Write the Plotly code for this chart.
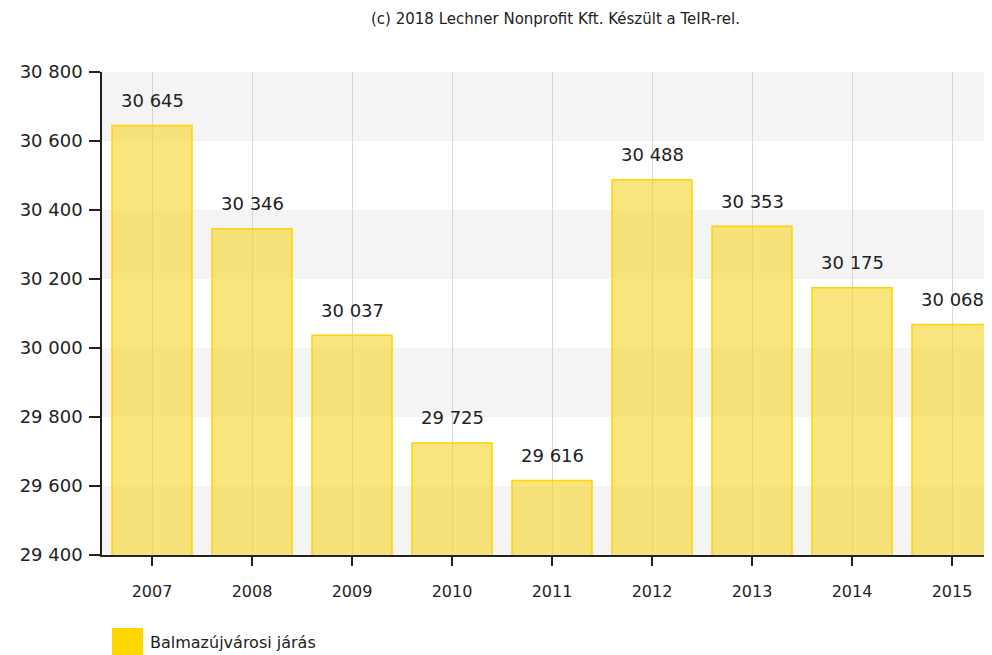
import plotly.graph_objects as go

years = ["2007", "2008", "2009", "2010", "2011", "2012", "2013", "2014", "2015"]
values = [30645, 30346, 30037, 29725, 29616, 30488, 30353, 30175, 30068]
series_name = "Balmazújvárosi járás"
title_text = "(c) 2018 Lechner Nonprofit Kft. Készült a TeIR-rel."
y_ticks = [29400, 29600, 29800, 30000, 30200, 30400, 30600, 30800]

def fmt(v):
    return f"{v:,}".replace(",", " ")

# page body has an 8px margin; figure is placed at (8, 8)
OFF = 8
PW = 890  # plot width
PH = 483  # plot height

fig = go.Figure()
fig.add_trace(go.Bar(
    x=years, y=values, name=series_name,
    marker=dict(color="rgba(247,212,40,0.6)", line=dict(color="#ffd400", width=1.5)),
    width=0.8, showlegend=False,
))

shapes = []
for i in range(len(y_ticks) - 1):
    if (len(y_ticks) - 2 - i) % 2 == 0:
        shapes.append(dict(type="rect", xref="paper", yref="y", x0=0, x1=1,
                           y0=y_ticks[i], y1=y_ticks[i + 1],
                           fillcolor="#f4f4f4", line=dict(width=0), layer="below"))
# legend swatch
shapes.append(dict(type="rect", xref="paper", yref="paper",
                   x0=10 / PW, x1=41 / PW, y0=-100 / PH, y1=-73 / PH,
                   fillcolor="#ffd700", line=dict(width=0)))

annotations = []
for i, v in enumerate(values):
    annotations.append(dict(x=i, y=v, xref="x", yref="y", text=fmt(v), showarrow=False,
                            yshift=25,
                            font=dict(family="DejaVu Sans", size=18, color="#222222")))
annotations.append(dict(xref="paper", yref="paper", x=46 / PW, y=-87 / PH,
                        xanchor="left", yanchor="middle", text=series_name, showarrow=False,
                        font=dict(family="DejaVu Sans", size=16, color="#222222")))
annotations.append(dict(xref="paper", yref="paper", x=(555 - 102) / PW, y=(555 - 19) / PH,
                        xanchor="center", yanchor="middle", text=title_text, showarrow=False,
                        font=dict(family="DejaVu Sans", size=15, color="#222222")))

fig.update_layout(
    width=992 - OFF, height=655 - OFF,
    margin=dict(l=102 - OFF, r=0, t=72 - OFF, b=100),
    paper_bgcolor="white", plot_bgcolor="white",
    separators=". ",
    shapes=shapes, annotations=annotations,
    showlegend=False,
    xaxis=dict(type="category", range=[-0.5, 8.4], showgrid=True, gridcolor="#d6d6d6", gridwidth=1,
               showline=True, linecolor="#222222", linewidth=1.5,
               ticks="outside", ticklen=9, tickcolor="#222222", tickwidth=1.5,
               ticklabelstandoff=12,
               tickfont=dict(family="DejaVu Sans", size=16, color="#222222"),
               fixedrange=True),
    yaxis=dict(range=[29400, 30800], tickvals=y_ticks,
               ticktext=[fmt(t) for t in y_ticks], showgrid=False, zeroline=False,
               showline=True, linecolor="#222222", linewidth=1.5,
               ticks="outside", ticklen=11, tickcolor="#222222", tickwidth=1.5,
               ticklabelstandoff=3,
               tickfont=dict(family="DejaVu Sans", size=18, color="#222222")),
)

fig.write_html("out.html")
